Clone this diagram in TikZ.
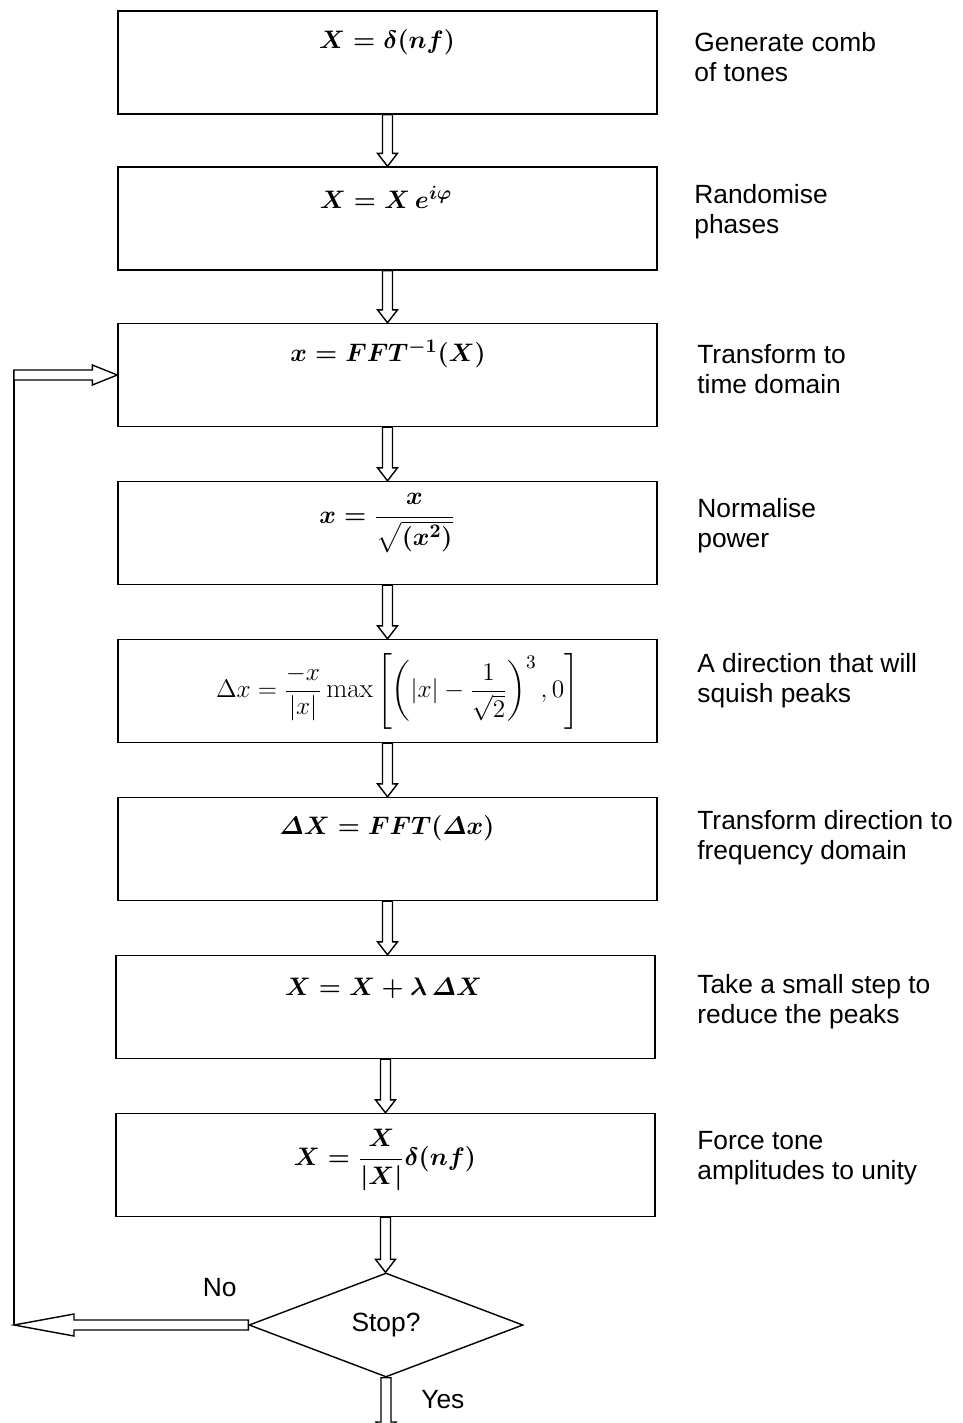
\documentclass[tikz,border=0pt]{standalone}
\usepackage{amsmath}
\usepackage{fontspec}
\newfontfamily\labelfont{Liberation Sans}
\usetikzlibrary{calc,shapes.geometric}
% hollow block arrows between named anchors
\newcommand{\blkdown}[2]{\draw[blk] let \p1=(#1), \p2=(#2) in
  (\x1-0.1cm,\y1) -- (\x1-0.1cm,\y2+0.26cm) -- (\x1-0.2cm,\y2+0.26cm) -- (\x1,\y2)
  -- (\x1+0.2cm,\y2+0.26cm) -- (\x1+0.1cm,\y2+0.26cm) -- (\x1+0.1cm,\y1) -- cycle;}
\newcommand{\blkh}[4]{\draw[blk] let \p1=(#1), \p2=(#2) in
  (\x1,\y1+0.1cm) -- (\x2+#3,\y1+0.1cm) -- (\x2+#3,\y1+#4) -- (\x2,\y1)
  -- (\x2+#3,\y1-#4) -- (\x2+#3,\y1-0.1cm) -- (\x1,\y1-0.1cm) -- cycle;}

\begin{document}
\begin{tikzpicture}[
  box/.style={draw,line width=0.8pt,minimum width=10.78cm,minimum height=2.06cm,inner sep=0pt},
  eq/.style={inner sep=1pt,font=\fontsize{15}{18}\selectfont\boldmath},
  eqp/.style={inner sep=1pt,font=\fontsize{15.5}{18}\selectfont},
  lab/.style={anchor=west,align=left,inner sep=0pt,font=\labelfont\fontsize{15}{17}\selectfont},
  dec/.style={diamond,draw,line width=0.8pt,minimum width=5.48cm,minimum height=2.08cm,
    inner sep=0pt,font=\labelfont\fontsize{15}{17}\selectfont},
  blk/.style={draw,fill=white,line width=0.8pt,line join=miter},
  back/.style={line width=0.6pt}]
\useasboundingbox (0,0) rectangle (19.26,-28.46);
\node[box] (b1) at (7.75,-1.25) {};
\node[box] (b2) at (7.75,-4.37) {};
\node[box] (b3) at (7.75,-7.5) {};
\node[box] (b4) at (7.75,-10.66) {};
\node[box] (b5) at (7.75,-13.82) {};
\node[box] (b6) at (7.75,-16.98) {};
\node[box] (b7) at (7.71,-20.14) {};
\node[box] (b8) at (7.71,-23.3) {};
\node[dec] (stop) at (7.72,-26.5) {Stop?};
% formulas
\node[eq] (f1) at (7.74,-0.84) {$X=\delta(nf)$};
\node[eq] (f2) at (7.72,-3.94) {$X=X\,e^{i\varphi}$};
\node[eq] (f3) at (7.76,-7.08) {$x=FFT^{-1}(X)$};
\node[eq] (f4) at (7.74,-10.46) {$x=\dfrac{x}{\sqrt{(x^{2})}}$};
\node[eqp] (f5) at (7.95,-13.82) {$\Delta x=\dfrac{-x}{|x|}\max\left[\left(|x|-\dfrac{1}{\sqrt{2}}\right)^{3},0\right]$};
\node[eq] (f6) at (7.74,-16.56) {$\varDelta X=FFT(\varDelta x)$};
\node[eq] (f7) at (7.67,-19.76) {$X=X+\lambda\,\varDelta X$};
\node[eq] (f8) at (7.7,-23.2) {$X=\dfrac{X}{|X|}\delta(nf)$};
% step descriptions
\node[lab] (l1) at (13.88,-1.14) {Generate comb\\of tones};
\node[lab] (l2) at (13.88,-4.24) {Randomise\\phases};
\node[lab] (l3) at (13.94,-7.38) {Transform to\\time domain};
\node[lab] (l4) at (13.94,-10.52) {Normalise\\power};
\node[lab] (l5) at (13.94,-13.62) {A direction that will\\squish peaks};
\node[lab] (l6) at (13.94,-16.76) {Transform direction to\\frequency domain};
\node[lab] (l7) at (13.94,-20.04) {Take a small step to\\reduce the peaks};
\node[lab] (l8) at (13.94,-23.16) {Force tone\\amplitudes to unity};
\node[lab] (no) at (4.05,-25.76) {No};
\node[lab] (yes) at (8.42,-28.0) {Yes};
\coordinate (lp) at (0.28,-7.5);
\coordinate (lb) at (0.28,-26.5);
\coordinate (yend) at (7.72,-28.7);
% flow
\blkdown{b1.south}{b2.north} \blkdown{b2.south}{b3.north} \blkdown{b3.south}{b4.north}
\blkdown{b4.south}{b5.north} \blkdown{b5.south}{b6.north} \blkdown{b6.south}{b7.north}
\blkdown{b7.south}{b8.north} \blkdown{b8.south}{stop.north} \blkdown{stop.south}{yend}
\draw[back] ($(lp)+(0,0.1)$) -- (lb);
\blkh{stop.west}{lb}{1.2cm}{0.22cm}
\blkh{lp}{b3.west}{-0.5cm}{0.2cm}
\end{tikzpicture}
\end{document}
